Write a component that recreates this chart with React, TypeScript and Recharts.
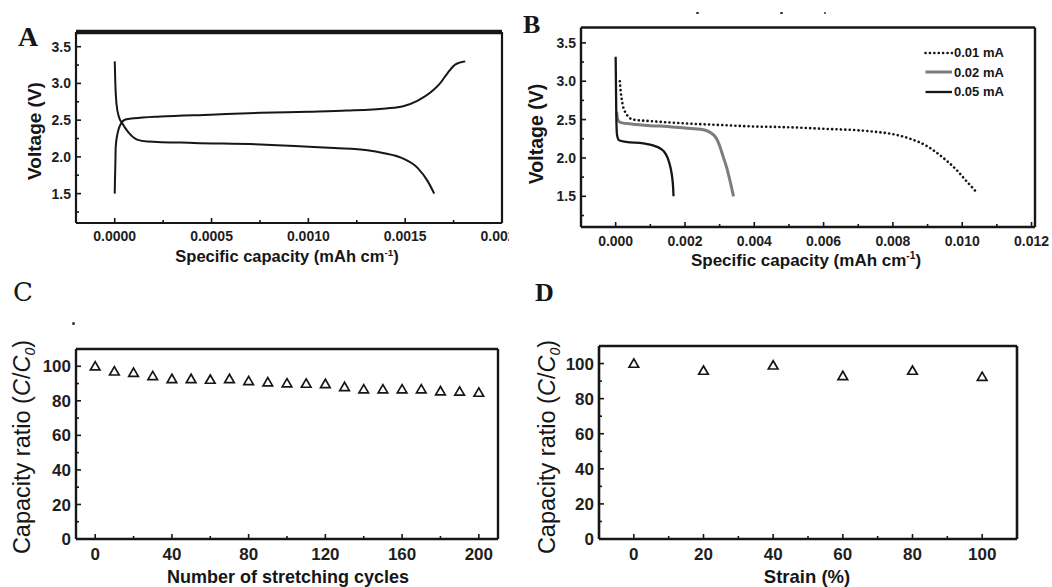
import React from "react";
import { ScatterChart, Scatter, XAxis, YAxis, Legend } from "recharts";

const INK = "#161616";
const GRAY = "#7d7d7d";
const SANS = "'Liberation Sans', Arial, sans-serif";
const SERIF = "'Liberation Serif', 'Times New Roman', serif";

// ---- panel A: charge / discharge
const A_CHARGE_X = [0, 0.000001, 0.000003, 0.0000052, 0.0000155, 0.0000295, 0.000055, 0.0001, 0.000236, 0.000495, 0.000753, 0.001, 0.0012, 0.0014, 0.00149, 0.00156, 0.00165, 0.00168, 0.00172, 0.00176, 0.00181];
const A_CHARGE_V = [1.5, 1.65, 1.87, 2.14, 2.33, 2.44, 2.51, 2.525, 2.55, 2.575, 2.6, 2.615, 2.63, 2.66, 2.69, 2.76, 2.92, 3.0, 3.145, 3.26, 3.3];
const A_DISCH_X = [0, 0.0000036, 0.0000088, 0.000021, 0.000038, 0.000072, 0.000116, 0.000168, 0.00041, 0.000754, 0.001133, 0.001305, 0.001391, 0.001478, 0.001564, 0.001616, 0.00165];
const A_DISCH_V = [3.3, 2.96, 2.73, 2.55, 2.46, 2.33, 2.235, 2.21, 2.19, 2.17, 2.12, 2.09, 2.05, 1.99, 1.85, 1.67, 1.5];
const A_X_TICKS = [0, 0.0005, 0.001, 0.0015, 0.002];
const A_X_LABELS = ["0.0000", "0.0005", "0.0010", "0.0015", "0.0020"];

// ---- panel B: discharge at three currents
const B_NAMES = ["0.01 mA", "0.02 mA", "0.05 mA"];
const B_001_X = [0.00012, 0.00015, 0.0002, 0.0003, 0.0005, 0.001, 0.002, 0.003, 0.004, 0.005, 0.006, 0.007, 0.0075, 0.008, 0.0085, 0.009, 0.0094, 0.0098, 0.0101, 0.0104];
const B_001_V = [3.0, 2.85, 2.7, 2.58, 2.5, 2.48, 2.45, 2.43, 2.41, 2.4, 2.38, 2.36, 2.34, 2.31, 2.25, 2.15, 2.02, 1.86, 1.71, 1.56];
const B_002_X = [0.00003, 0.00006, 0.00015, 0.0005, 0.001, 0.0015, 0.002, 0.0025, 0.0027, 0.0029, 0.003, 0.0031, 0.0032, 0.0033, 0.0034];
const B_002_V = [2.6, 2.5, 2.46, 2.44, 2.42, 2.41, 2.39, 2.37, 2.34, 2.26, 2.16, 2.02, 1.88, 1.7, 1.5];
const B_005_X = [0, 0.00001, 0.00002, 0.00004, 0.0001, 0.0003, 0.0008, 0.0011, 0.0013, 0.0014, 0.0015, 0.00158, 0.00163, 0.00166, 0.00167];
const B_005_V = [3.32, 2.9, 2.5, 2.3, 2.23, 2.21, 2.19, 2.16, 2.12, 2.08, 2.0, 1.88, 1.75, 1.6, 1.5];
const B_X_TICKS = [0, 0.002, 0.004, 0.006, 0.008, 0.01, 0.012];
const B_X_LABELS = ["0.000", "0.002", "0.004", "0.006", "0.008", "0.010", "0.012"];

const V_TICKS = [1.5, 2, 2.5, 3, 3.5];
const V_LABELS = ["1.5", "2.0", "2.5", "3.0", "3.5"];

// ---- panel C: capacity ratio vs stretching cycles
const C_CYCLES = [0, 10, 20, 30, 40, 50, 60, 70, 80, 90, 100, 110, 120, 130, 140, 150, 160, 170, 180, 190, 200];
const C_RATIO = [100, 97.1, 96.3, 94.4, 92.7, 92.7, 92.3, 92.7, 91.5, 90.8, 90.2, 90, 89.8, 88.1, 86.7, 86.7, 86.7, 86.7, 85.6, 85.4, 84.8];
const C_X_TICKS = [0, 40, 80, 120, 160, 200];
const C_X_LABELS = ["0", "40", "80", "120", "160", "200"];

// ---- panel D: capacity ratio vs strain
const D_STRAIN = [0, 20, 40, 60, 80, 100];
const D_RATIO = [100, 96, 99, 93, 96, 92.5];
const D_X_TICKS = [0, 20, 40, 60, 80, 100];
const D_X_LABELS = ["0", "20", "40", "60", "80", "100"];

const R_TICKS = [0, 20, 40, 60, 80, 100];
const R_LABELS = ["0", "20", "40", "60", "80", "100"];

const zip = (xs: number[], ys: number[]) => xs.map((x, i) => ({ x, y: ys[i] }));
const mids = (t: number[]) => t.slice(0, -1).map((v, i) => (v + t[i + 1]) / 2);

function axisTick(side: "x" | "y", majors: number[], labels: string[], fontSize: number, gap: number) {
  return (p: any) => {
    const v = p.payload?.value;
    const i = majors.findIndex((m) => Math.abs(m - v) < 1e-9);
    const len = i >= 0 ? 5 : 3;
    const txt = { fontFamily: SANS, fontWeight: 700, fontSize, fill: "#1e1e1e" };
    if (side === "x") {
      return (
        <g>
          <line x1={p.x} x2={p.x} y1={p.y} y2={p.y - len} stroke={INK} strokeWidth={1.6} />
          {i >= 0 && (
            <text x={p.x} y={p.y + gap} textAnchor="middle" {...txt}>
              {labels[i]}
            </text>
          )}
        </g>
      );
    }
    return (
      <g>
        <line x1={p.x} x2={p.x + len} y1={p.y} y2={p.y} stroke={INK} strokeWidth={1.6} />
        {i >= 0 && (
          <text x={p.x - gap} y={p.y} dy="0.36em" textAnchor="end" {...txt}>
            {labels[i]}
          </text>
        )}
      </g>
    );
  };
}

// closed box: ticked bottom/left axes plus bare top/right axes
function frame(xDom: [number, number], yDom: [number, number], xT: number[], xL: string[], yT: number[], yL: string[], fs: number, xGap: number, xH: number, topW: number, w: number) {
  return [
    <XAxis key="xb" type="number" dataKey="x" domain={xDom} allowDataOverflow ticks={[...xT, ...mids(xT)]} interval={0} axisLine={{ stroke: INK, strokeWidth: w }} tickLine={false} tickSize={0} tickMargin={0} height={xH} tick={axisTick("x", xT, xL, fs, xGap)} />,
    <YAxis key="yl" type="number" dataKey="y" domain={yDom} allowDataOverflow ticks={yT} interval={0} axisLine={{ stroke: INK, strokeWidth: w }} tickLine={false} tickSize={0} tickMargin={0} width={60} tick={axisTick("y", yL.map(Number), yL, fs, 5)} />,
    <XAxis key="xt" xAxisId="top" orientation="top" type="number" domain={xDom} allowDataOverflow height={1} tick={false} tickLine={false} axisLine={{ stroke: INK, strokeWidth: topW }} />,
    <YAxis key="yr" yAxisId="right" orientation="right" type="number" domain={yDom} allowDataOverflow width={1} tick={false} tickLine={false} axisLine={{ stroke: INK, strokeWidth: w }} />
  ];
}

const Triangle = (p: any) => {
  const { cx, cy } = p;
  return <path d={`M${cx},${cy - 4.6}L${cx + 4.8},${cy + 3.7}L${cx - 4.8},${cy + 3.7}Z`} fill="#fff" stroke={INK} strokeWidth={1.7} />;
};
const NoDot = () => <g />;

const B_STYLES = [
  { stroke: INK, width: 2.6, dash: "0.1 4.3" },
  { stroke: GRAY, width: 3, dash: undefined },
  { stroke: INK, width: 2.3, dash: undefined }
];

function curve(name: string, data: { x: number; y: number }[], stroke: string, width: number, dash?: string) {
  return (
    <Scatter
      key={name}
      name={name}
      data={data}
      shape={NoDot}
      line={{ stroke, strokeWidth: width, strokeDasharray: dash, strokeLinecap: dash ? "round" : "butt", fill: "none" }}
      lineType="joint"
      lineJointType="monotoneX"
      isAnimationActive={false}
    />
  );
}

function BLegend() {
  return (
    <div style={{ fontFamily: SANS, fontWeight: 700, fontSize: 13, color: INK, lineHeight: "19.5px", width: 100 }}>
      {B_NAMES.map((n, i) => (
        <div key={n} style={{ display: "flex", alignItems: "center", height: 19.5 }}>
          <svg width={29} height={8} style={{ display: "block", flex: "none" }}>
            <line x1={1.5} x2={28} y1={4} y2={4} stroke={B_STYLES[i].stroke} strokeWidth={B_STYLES[i].width} strokeDasharray={B_STYLES[i].dash} strokeLinecap={B_STYLES[i].dash ? "round" : "butt"} />
          </svg>
          <span style={{ marginLeft: 1, whiteSpace: "nowrap" }}>{n}</span>
        </div>
      ))}
    </div>
  );
}

function Title({ x, y, rotate, size, weight = 700, children }: any) {
  return (
    <div
      style={{
        position: "absolute",
        left: x,
        top: y,
        transform: `translate(-50%, -50%)${rotate ? " rotate(-90deg)" : ""}`,
        whiteSpace: "nowrap",
        fontFamily: SANS,
        fontWeight: weight,
        fontSize: size,
        color: INK,
        lineHeight: 1
      }}
    >
      {children}
    </div>
  );
}

function Letter({ x, y, size, bold = true, family = SERIF, children }: any) {
  return (
    <div style={{ position: "absolute", left: x, top: y, fontFamily: family, fontWeight: bold ? 700 : 400, fontSize: size, lineHeight: 1, color: INK }}>
      {children}
    </div>
  );
}

const Dot = ({ x, y }: { x: number; y: number }) => <div style={{ position: "absolute", left: x, top: y, width: 2.5, height: 2.5, borderRadius: 2, background: "#333" }} />;

export default function App() {
  const vDom: [number, number] = [1.1, 3.7];
  const aX: [number, number] = [-0.0002, 0.002];
  const bX: [number, number] = [-0.001, 0.0121];
  const cX: [number, number] = [-10, 210];
  const dX: [number, number] = [-10, 110];
  const rDom: [number, number] = [0, 110];
  const vTicks = [...V_TICKS, 1.25, ...mids(V_TICKS)];
  const rTicks = [...R_TICKS, ...mids(R_TICKS)];

  return (
    <div style={{ position: "absolute", left: 0, top: 0, width: 1052, height: 587, background: "#fff", overflow: "hidden" }}>
      {/* A */}
      <div style={{ position: "absolute", left: 0, top: 0 }}>
        <ScatterChart width={509} height={270} margin={{ top: 31, right: 6, left: 16, bottom: 0 }}>
          {frame(aX, vDom, A_X_TICKS, A_X_LABELS, vTicks, V_LABELS, 14, 18, 47, 4.5, 2.2)}
          {curve("charge", zip(A_CHARGE_X, A_CHARGE_V), INK, 2)}
          {curve("discharge", zip(A_DISCH_X, A_DISCH_V), INK, 2)}
        </ScatterChart>
      </div>

      {/* B */}
      <div style={{ position: "absolute", left: 520, top: 0 }}>
        <ScatterChart width={532} height={270} margin={{ top: 26.5, right: 16, left: 1, bottom: 0 }}>
          {frame(bX, vDom, B_X_TICKS, B_X_LABELS, vTicks, V_LABELS, 14, 19, 43, 2.6, 2.4)}
          {curve(B_NAMES[0], zip(B_001_X, B_001_V), B_STYLES[0].stroke, B_STYLES[0].width, B_STYLES[0].dash)}
          {curve(B_NAMES[1], zip(B_002_X, B_002_V), B_STYLES[1].stroke, B_STYLES[1].width)}
          {curve(B_NAMES[2], zip(B_005_X, B_005_V), B_STYLES[2].stroke, B_STYLES[2].width)}
          <Legend layout="vertical" align="center" verticalAlign="middle" wrapperStyle={{ left: 404, top: 43, width: 100, height: 60 }} content={() => <BLegend />} />
        </ScatterChart>
      </div>

      {/* C */}
      <div style={{ position: "absolute", left: 0, top: 290 }}>
        <ScatterChart width={520} height={297} margin={{ top: 58, right: 21, left: 16, bottom: 0 }}>
          {frame(cX, rDom, C_X_TICKS, C_X_LABELS, rTicks, R_LABELS, 17, 21, 48, 2.4, 2.4)}
          <Scatter data={zip(C_CYCLES, C_RATIO)} shape={Triangle} isAnimationActive={false} />
        </ScatterChart>
      </div>

      {/* D */}
      <div style={{ position: "absolute", left: 520, top: 290 }}>
        <ScatterChart width={532} height={297} margin={{ top: 55, right: 34, left: 19, bottom: 0 }}>
          {frame(dX, rDom, D_X_TICKS, D_X_LABELS, rTicks, R_LABELS, 17, 21, 48, 2.6, 2.6)}
          <Scatter data={zip(D_STRAIN, D_RATIO)} shape={Triangle} isAnimationActive={false} />
        </ScatterChart>
      </div>

      {/* axis titles */}
      <Title x={287} y={256} size={16.5}>
        Specific capacity (mAh cm<sup style={{ fontSize: "0.6em" }}>-1</sup>)
      </Title>
      <Title x={806} y={260} size={17}>
        Specific capacity (mAh cm<sup style={{ fontSize: "0.6em" }}>-1</sup>)
      </Title>
      <Title x={34} y={131} size={19} rotate>
        Voltage (V)
      </Title>
      <Title x={537} y={134} size={19.5} rotate>
        Voltage (V)
      </Title>
      <Title x={288} y={577} size={18}>
        Number of stretching cycles
      </Title>
      <Title x={807} y={577} size={18.5}>
        Strain (%)
      </Title>
      <Title x={24} y={447} size={23.5} weight={400} rotate>
        Capacity ratio (<i>C</i>/<i>C</i>
        <sub style={{ fontSize: "0.6em", fontStyle: "italic" }}>0</sub>)
      </Title>
      <Title x={549} y={447} size={23.5} weight={400} rotate>
        Capacity ratio (<i>C</i>/<i>C</i>
        <sub style={{ fontSize: "0.6em", fontStyle: "italic" }}>0</sub>)
      </Title>

      {/* panel letters */}
      <Letter x={18} y={23} size={28}>A</Letter>
      <Letter x={523} y={12} size={26}>B</Letter>
      <Letter x={13} y={279} size={26} bold={false} family="'DejaVu Serif', serif">C</Letter>
      <Letter x={535} y={280} size={26}>D</Letter>

      {/* stray marks from the source scan */}
      <Dot x={696} y={11.5} />
      <Dot x={780} y={11.5} />
      <Dot x={823.5} y={11.5} />
      <Dot x={72} y={322} />
    </div>
  );
}
